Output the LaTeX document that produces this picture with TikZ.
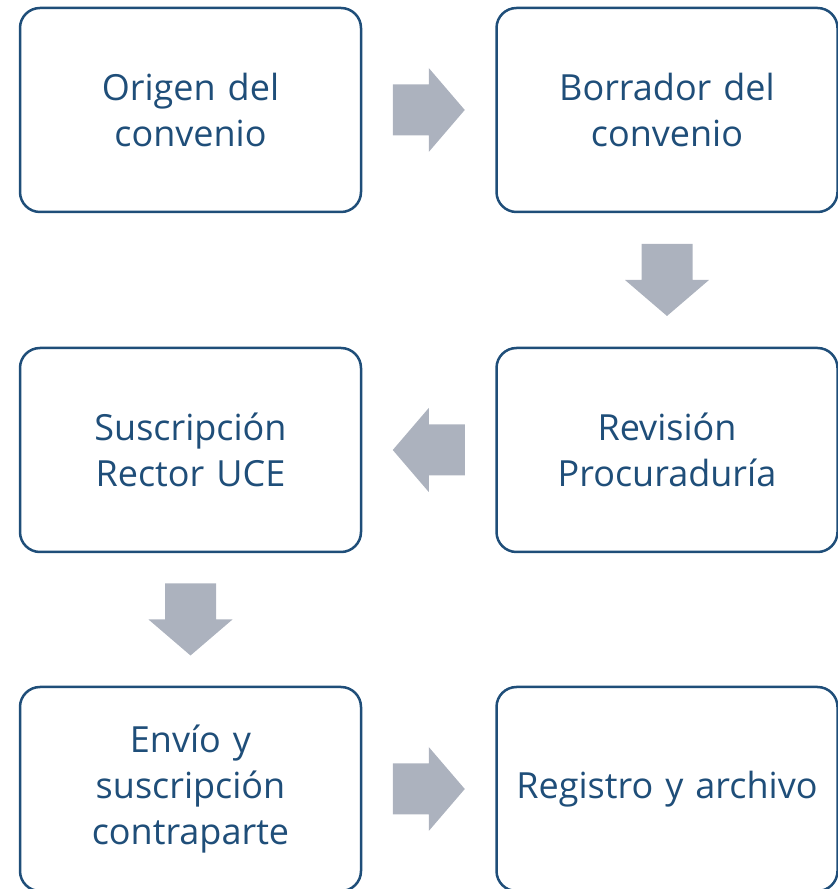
\documentclass[tikz,border=0pt]{standalone}
\usepackage{fontspec}
\setmainfont{Open Sans}
\usetikzlibrary{calc}
\definecolor{boxblue}{RGB}{31,78,121}
\definecolor{arrowgray}{RGB}{172,178,190}
\tikzset{
  stepbox/.style={draw=boxblue, line width=2.5pt, rounded corners=20pt, fill=white,
    minimum width=341pt, minimum height=204pt, text width=330pt, align=center,
    text=boxblue, font=\fontsize{36}{46}\selectfont, inner sep=0pt},
  blockarrow/.style={fill=arrowgray, draw=none}
}
\newcommand{\blockarr}[2]{%
  \fill[blockarrow, shift={(#1)}, rotate=#2] (-36pt,-25.5pt) -- (0pt,-25.5pt) -- (0pt,-42pt) -- (36pt,0pt) -- (0pt,42pt) -- (0pt,25.5pt) -- (-36pt,25.5pt) -- cycle;}
\begin{document}
\begin{tikzpicture}[x=1pt,y=1pt]
\useasboundingbox (0,0) rectangle (838,889);
\node[stepbox] (orig) at (190.5,779) {Origen del\\convenio};
\node[stepbox] (borr) at (667,779) {Borrador del\\convenio};
\node[stepbox] (rev) at (667,439) {Revisión\\Procuraduría};
\node[stepbox] (susc) at (190.5,439) {Suscripción\\Rector UCE};
\node[stepbox] (env) at (190.5,100) {Envío y\\suscripción\\contraparte};
\node[stepbox] (reg) at (667,100) {Registro y archivo};
\coordinate (a1) at ($(orig.east)!0.5!(borr.west)$);
\coordinate (a2) at ($(borr.south)!0.5!(rev.north)$);
\coordinate (a3) at ($(rev.west)!0.5!(susc.east)$);
\coordinate (a4) at ($(susc.south)!0.5!(env.north)$);
\coordinate (a5) at ($(env.east)!0.5!(reg.west)$);
\blockarr{a1}{0}
\blockarr{a2}{-90}
\blockarr{a3}{180}
\blockarr{a4}{-90}
\blockarr{a5}{0}
\end{tikzpicture}
\end{document}
